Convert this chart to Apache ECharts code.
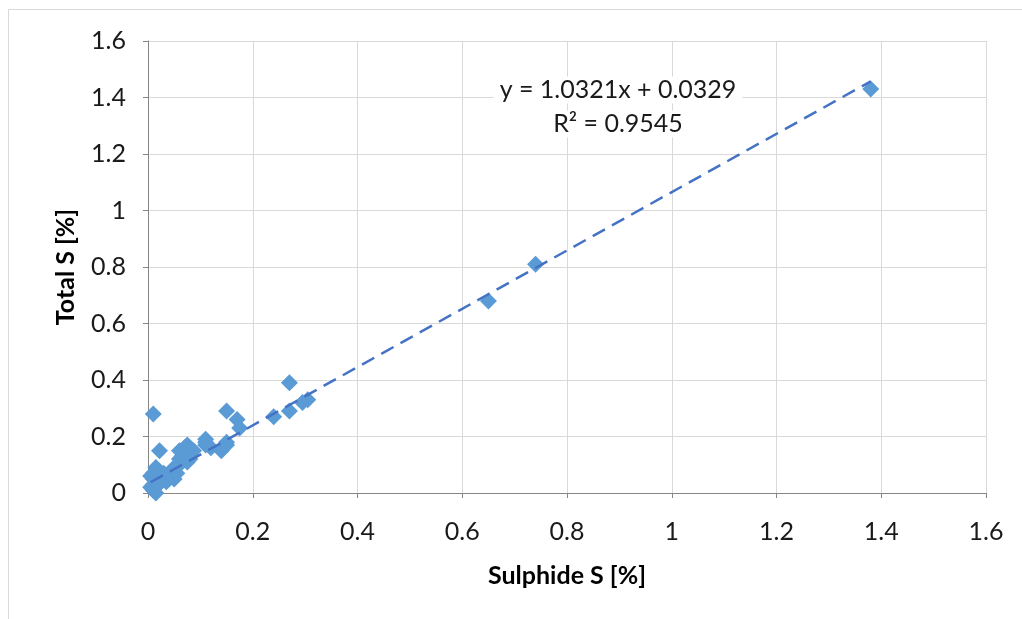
<!DOCTYPE html>
<html><head><meta charset="utf-8">
<script src="https://cdn.jsdelivr.net/npm/echarts@6/dist/echarts.min.js"></script>
<style>html,body{margin:0;padding:0;background:#fff}#c{width:1022px;height:619px}</style>
</head><body><div id="c"></div>
<script>
var sulphideS = [1.38,0.74,0.65,0.305,0.295,0.27,0.27,0.24,0.17,0.175,0.15,0.15,0.15,0.14,0.12,0.11,0.11,0.11,0.087,0.08,0.075,0.07,0.07,0.065,0.06,0.06,0.08,0.075,0.06,0.05,0.055,0.05,0.045,0.04,0.035,0.03,0.025,0.02,0.02,0.015,0.01,0.01,0.01,0.005,0.01,0.015,0.02,0.01,0.022,0.005,0.03];
var totalS    = [1.43,0.81,0.68,0.33,0.32,0.39,0.29,0.27,0.26,0.23,0.29,0.17,0.18,0.15,0.16,0.18,0.19,0.17,0.15,0.16,0.17,0.16,0.14,0.13,0.15,0.12,0.12,0.11,0.10,0.09,0.07,0.05,0.06,0.05,0.04,0.05,0.04,0.08,0.06,0.09,0.07,0.05,0.03,0.02,0.01,0.0,0.03,0.28,0.15,0.06,0.07];
var trendSlope = 1.0321, trendIntercept = 0.0329, rSquared = 0.9545;
var axisTicks = [0,0.2,0.4,0.6,0.8,1,1.2,1.4,1.6];

var pts = sulphideS.map(function(x,i){return [x,totalS[i]];});
var xmin = Math.min.apply(null,sulphideS), xmax = Math.max.apply(null,sulphideS);
var trend = [[xmin, trendSlope*xmin+trendIntercept],[xmax, trendSlope*xmax+trendIntercept]];
var font = 'Lato, "Liberation Sans", sans-serif';
var chart = echarts.init(document.getElementById('c'));
var axisCommon = {
  min:0, max:1.6, interval:0.2,
  axisLine:{show:true,lineStyle:{color:'#868686',width:1}},
  axisTick:{show:true,inside:false,length:5,lineStyle:{color:'#868686'}},
  splitLine:{show:true,lineStyle:{color:'#d9d9d9',width:1}},
  axisLabel:{color:'#1a1a1a',fontSize:25,fontFamily:font,formatter:function(v){return String(+v.toFixed(1));}},
  nameLocation:'middle',
  nameTextStyle:{color:'#000',fontSize:25,fontWeight:'bold',fontFamily:font}
};
chart.setOption({
  animation:false,
  grid:{left:148,right:36,top:41,bottom:126},
  graphic:[
    {type:'rect',shape:{x:8.5,y:9.5,width:1100,height:700},style:{fill:null,stroke:'#d9d9d9',lineWidth:1},z:-10},
    {type:'text',x:618,y:90,style:{text:'y = '+trendSlope.toFixed(4)+'x + '+trendIntercept.toFixed(4),font:'25px '+font,fill:'#1a1a1a',align:'center',verticalAlign:'middle',backgroundColor:'#fff',padding:[1,6]},z:100},
    {type:'text',x:618,y:124,style:{text:'R² = '+rSquared.toFixed(4),font:'25px '+font,fill:'#1a1a1a',align:'center',verticalAlign:'middle',backgroundColor:'#fff',padding:[1,6]},z:100}
  ],
  xAxis:Object.assign({},axisCommon,{type:'value',name:'Sulphide S [%]',nameGap:70,axisLabel:Object.assign({},axisCommon.axisLabel,{margin:26})}),
  yAxis:Object.assign({},axisCommon,{type:'value',name:'Total S [%]',nameGap:70,axisLabel:Object.assign({},axisCommon.axisLabel,{margin:22})}),
  series:[
    {type:'scatter',data:pts,symbol:'diamond',symbolSize:17,itemStyle:{color:'#5b9bd5',opacity:1},z:3},
    {type:'line',data:trend,symbol:'none',lineStyle:{color:'#4472c4',width:2.5,type:[14,8]},z:4}
  ]
});
</script></body></html>
